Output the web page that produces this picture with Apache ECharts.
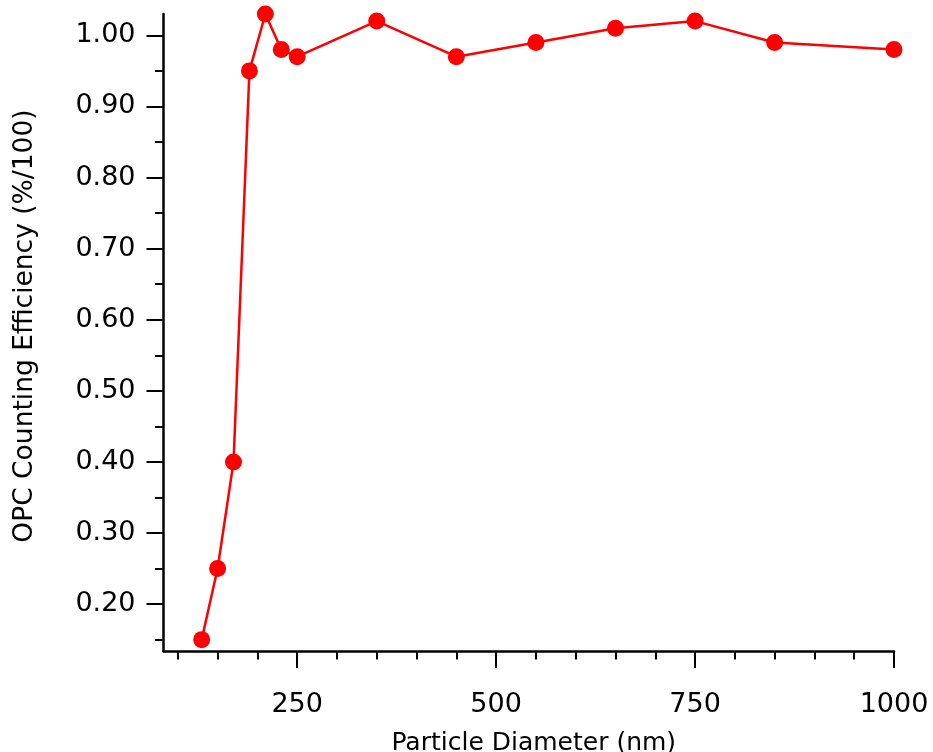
<!DOCTYPE html>
<html>
<head>
<meta charset="utf-8">
<script src="https://cdn.jsdelivr.net/npm/echarts@6/dist/echarts.min.js"></script>
<style>
html,body{margin:0;padding:0;background:#fff;}
#chart{width:933px;height:752px;}
</style>
</head>
<body>
<div id="chart"></div>
<script>
// Data
const diameters = [130, 150, 170, 190, 210, 230, 250, 350, 450, 550, 650, 750, 850, 1000];
const efficiency = [0.15, 0.25, 0.40, 0.95, 1.03, 0.98, 0.97, 1.02, 0.97, 0.99, 1.01, 1.02, 0.99, 0.98];
const xMajorTicks = [250, 500, 750, 1000];
const xMinorTicks = [100, 150, 200, 300, 350, 400, 450, 550, 600, 650, 700, 800, 850, 900, 950];
const yMajorTicks = [0.20, 0.30, 0.40, 0.50, 0.60, 0.70, 0.80, 0.90, 1.00];
const yMinorTicks = [0.15, 0.25, 0.35, 0.45, 0.55, 0.65, 0.75, 0.85, 0.95];
const xRange = [82, 1000];
const yRange = [0.134, 1.03];

const font = 'DejaVu Sans';
const gridRect = {left: 163.5, right: 39, top: 14, bottom: 101, containLabel: false, outerBoundsMode: 'none'};
const chart = echarts.init(document.getElementById('chart'));
const pts = diameters.map((d, i) => [d, efficiency[i]]);

chart.setOption({
  animation: false,
  backgroundColor: '#fff',
  grid: [Object.assign({}, gridRect), Object.assign({}, gridRect)],
  xAxis: [
    {
      type: 'value', gridIndex: 0, min: xRange[0], max: xRange[1],
      axisLine: {show: true, lineStyle: {color: '#000', width: 2.5}},
      axisTick: {show: true, customValues: xMajorTicks, length: 17, lineStyle: {color: '#000', width: 2}},
      axisLabel: {customValues: xMajorTicks, margin: 40, color: '#000', fontFamily: font, fontSize: 27,
        formatter: v => String(v)},
      splitLine: {show: false},
      name: 'Particle Diameter (nm)', nameLocation: 'middle', nameGap: 80,
      nameTextStyle: {color: '#000', fontFamily: font, fontSize: 25, padding: [0, 0, 0, 10]}
    },
    {
      type: 'value', gridIndex: 1, min: xRange[0], max: xRange[1],
      axisLine: {show: false},
      axisTick: {show: true, customValues: xMinorTicks, length: 8.5, lineStyle: {color: '#000', width: 2}},
      axisLabel: {show: false},
      splitLine: {show: false}
    }
  ],
  yAxis: [
    {
      type: 'value', gridIndex: 0, min: yRange[0], max: yRange[1],
      axisLine: {show: true, lineStyle: {color: '#000', width: 2.5}},
      axisTick: {show: true, customValues: yMajorTicks, length: 17, lineStyle: {color: '#000', width: 2}},
      axisLabel: {customValues: yMajorTicks, margin: 28, color: '#000', fontFamily: font, fontSize: 27,
        formatter: v => v.toFixed(2)},
      splitLine: {show: false},
      name: 'OPC Counting Efficiency (%/100)', nameLocation: 'middle', nameGap: 125, nameRotate: 90,
      nameTextStyle: {color: '#000', fontFamily: font, fontSize: 26.5, padding: [0, 0, 0, 13]}
    },
    {
      type: 'value', gridIndex: 1, min: yRange[0], max: yRange[1],
      axisLine: {show: false},
      axisTick: {show: true, customValues: yMinorTicks, length: 8.5, lineStyle: {color: '#000', width: 2}},
      axisLabel: {show: false},
      splitLine: {show: false}
    }
  ],
  series: [{
    type: 'line', xAxisIndex: 0, yAxisIndex: 0, data: pts,
    clip: false,
    symbol: 'circle', symbolSize: 17, showSymbol: true,
    lineStyle: {color: '#ff0000', width: 2.5},
    itemStyle: {color: '#ff0000'}
  }]
});
</script>
</body>
</html>
